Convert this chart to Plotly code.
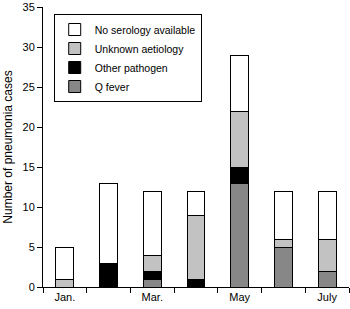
import plotly.graph_objects as go

months = ["Jan.", "Feb.", "Mar.", "Apr.", "May", "June", "July"]
tick_labels = ["Jan.", "", "Mar.", "", "May", "", "July"]
q_fever = [0, 0, 1, 0, 13, 5, 2]
other_pathogen = [0, 3, 1, 1, 2, 0, 0]
unknown_aetiology = [1, 0, 2, 8, 7, 1, 4]
no_serology = [4, 10, 8, 3, 7, 6, 6]

series = [
    ("Q fever", q_fever, "#878787"),
    ("Other pathogen", other_pathogen, "#000000"),
    ("Unknown aetiology", unknown_aetiology, "#c2c2c2"),
    ("No serology available", no_serology, "#ffffff"),
]

fig = go.Figure()
for name, vals, color in series:
    fig.add_trace(go.Bar(
        x=months, y=vals, name=name,
        marker=dict(color=color, line=dict(color="#000000", width=1)),
        width=0.41,
    ))

fam = "Liberation Sans"
font = dict(family=fam, size=11, color="#000")
fig.update_layout(
    barmode="stack",
    width=350, height=309,
    margin=dict(l=43, r=1, t=7, b=22, autoexpand=False),
    paper_bgcolor="white", plot_bgcolor="white",
    font=font,
    showlegend=True,
    legend=dict(
        x=0.035, y=0.975, xanchor="left", yanchor="top",
        traceorder="reversed",
        bordercolor="#000", borderwidth=1,
        bgcolor="white",
        font=dict(family=fam, size=10.5, color="#000"),
        itemwidth=30,
        tracegroupgap=0,
    ),
    xaxis=dict(
        type="category",
        tickmode="array", tickvals=months, ticktext=tick_labels,
        tickson="boundaries",
        ticks="outside", ticklen=5, tickcolor="#000",
        showline=True, linecolor="#000", linewidth=1,
        showgrid=False, zeroline=False,
        range=[-0.5, 6.5],
        tickfont=font,
        automargin=False,
    ),
    yaxis=dict(
        range=[0, 35], tickvals=[0, 5, 10, 15, 20, 25, 30, 35],
        ticks="outside", ticklen=5, tickcolor="#000",
        showline=True, linecolor="#000", linewidth=1,
        showgrid=False, zeroline=False,
        title=dict(text="Number of pneumonia cases", font=dict(family=fam, size=12, color="#000"), standoff=7),
        tickfont=font,
        automargin=False,
    ),
)

fig.write_html("out.html", config={"displayModeBar": False},
               post_script="document.body.style.margin='0';")
